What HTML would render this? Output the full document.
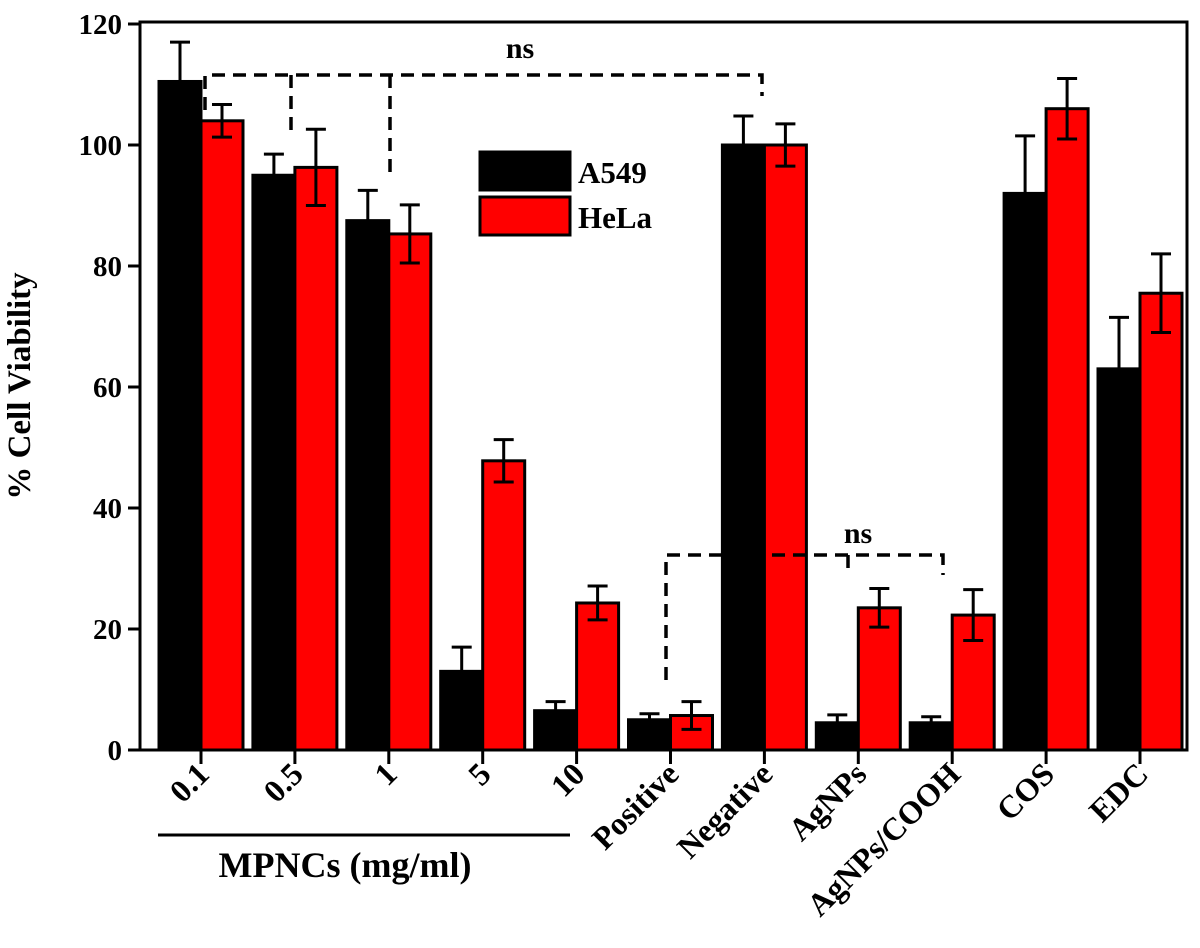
<!DOCTYPE html>
<html><head><meta charset="utf-8"><style>
body{margin:0;background:#fff}
svg text{font-family:"Liberation Serif",serif;font-weight:bold;fill:#000}
</style></head><body>
<svg id="chart" width="1200" height="943" xmlns="http://www.w3.org/2000/svg">
<g id="marks"></g>
<rect x="140" y="22" width="1047" height="728" fill="none" stroke="#000" stroke-width="3"/>
<g fill="none" stroke="#000" stroke-width="3.5" stroke-dasharray="13,8">
<polyline points="205,110 205,75 762,75 762,96"/>
<line x1="291" y1="75" x2="291" y2="132"/>
<line x1="390" y1="75" x2="390" y2="180"/>
<polyline points="666,680 666,555 943,555 943,575"/>
<line x1="848" y1="555" x2="848" y2="575"/>
</g>
<text x="520" y="58" font-size="30" text-anchor="middle">ns</text>
<text x="858" y="543" font-size="30" text-anchor="middle">ns</text>
<g>
<rect x="480" y="152" width="90" height="38" fill="#000" stroke="#000" stroke-width="3"/>
<text x="578" y="183" font-size="31">A549</text>
<rect x="480" y="197" width="90" height="38" fill="#f00" stroke="#000" stroke-width="3"/>
<text x="578" y="228" font-size="31">HeLa</text>
</g>
<text transform="translate(30,386) rotate(-90)" font-size="33" text-anchor="middle">% Cell Viability</text>
<line x1="158" y1="835" x2="570" y2="835" stroke="#000" stroke-width="3"/>
<text x="345" y="877" font-size="36" text-anchor="middle">MPNCs (mg/ml)</text>
</svg>
<script>
const categories=["0.1","0.5","1","5","10","Positive","Negative","AgNPs","AgNPs/COOH","COS","EDC"];
const a549=[110.5,95,87.5,13,6.5,5,100,4.5,4.5,92,63];
const a549Err=[6.5,3.5,5,4,1.5,1,4.8,1.3,1,9.5,8.5];
const hela=[104,96.3,85.3,47.8,24.3,5.7,100,23.5,22.3,106,75.5];
const helaErr=[2.7,6.3,4.8,3.5,2.8,2.3,3.5,3.2,4.2,5,6.5];
const yTicks=[0,20,40,60,80,100,120];
const NS="http://www.w3.org/2000/svg";
const y0=750,yTop=24,x0=201,step=93.9,bw=42;
function yS(v){return y0-(v/120)*(y0-yTop);}
function xS(i){return x0+i*step;}
const g=document.getElementById('marks');
function mk(tag,at){const e=document.createElementNS(NS,tag);for(const k in at)e.setAttribute(k,at[k]);g.appendChild(e);return e;}
yTicks.forEach(t=>{
 const l=mk('line',{x1:128,x2:140,y1:yS(t),y2:yS(t),stroke:'#000','stroke-width':3});
 
 
 const tx=mk('text',{x:122,y:yS(t)+10,'font-size':29,'text-anchor':'end'});
 tx.textContent=t;
 
 
});
function bar(i,v,e,off,fill,name){
 const x=xS(i)+off;
 const r=mk('rect',{x:x,y:yS(v),width:bw,height:y0-yS(v),fill:fill,stroke:'#000','stroke-width':3});
 
 
 const cx=x+bw/2;
 const p=mk('path',{d:`M${cx},${yS(v+e)}V${yS(v-e)}M${cx-10},${yS(v+e)}H${cx+10}M${cx-10},${yS(v-e)}H${cx+10}`,stroke:'#000','stroke-width':3,fill:'none'});
 
 
}
categories.forEach((c,i)=>{
 bar(i,a549[i],a549Err[i],-bw,'#000','bar-a549');
 bar(i,hela[i],helaErr[i],0,'#f00','bar-hela');
 const l=mk('line',{x1:xS(i),x2:xS(i),y1:750,y2:764,stroke:'#000','stroke-width':3});
 
 
 const t=mk('text',{transform:`translate(${xS(i)+10},${776}) rotate(-45)`,'font-size':32,'text-anchor':'end'});
 t.textContent=c;
 
 
});
</script>
</body></html>
